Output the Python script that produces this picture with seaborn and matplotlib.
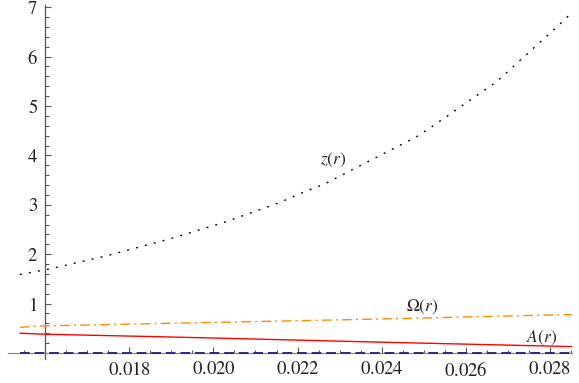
import numpy as np
import pandas as pd
import matplotlib
matplotlib.use('Agg')
import matplotlib.pyplot as plt
import seaborn as sns

sns.set_style('white')
plt.rcParams['font.family'] = ['Liberation Serif', 'DejaVu Serif']
plt.rcParams['mathtext.fontset'] = 'stix'

# values
z_r = [0.01539, 0.01609, 0.01742, 0.01896, 0.02027, 0.02156, 0.02218, 0.02264,
       0.02484, 0.02523, 0.02674, 0.02825, 0.02853]
z_val = [1.59, 1.70, 1.96, 2.31, 2.65, 3.04, 3.27, 3.42, 4.38, 4.60, 5.49, 6.66, 6.89]

om_r = [0.01539, 0.01600, 0.02406, 0.02853]
om_val = [0.52, 0.55, 0.69, 0.78]

a_r = [0.01539, 0.01600, 0.01920, 0.02396, 0.02853]
a_val = [0.40, 0.38, 0.32, 0.22, 0.13]

b_r = [0.01539, 0.02853]
b_val = [0.0, 0.0]

x_ticks = [0.018, 0.020, 0.022, 0.024, 0.026, 0.028]
x_labels = ['0.018', '0.020', '0.022', '0.024', '0.026', '0.028']
y_ticks = [1, 2, 3, 4, 5, 6, 7]

fig = plt.figure(figsize=(5.79, 3.83), dpi=100)
ax = fig.add_axes([0, 0, 1, 1])

sns.lineplot(x=b_r, y=b_val, ax=ax, color='#2b2b80', lw=1.4,
             linestyle=(0, (5, 2.5)), zorder=3)
sns.lineplot(x=a_r, y=a_val, ax=ax, color='#ff0000', lw=1.0, zorder=3)
sns.lineplot(x=om_r, y=om_val, ax=ax, color='#ff8c00', lw=1.0,
             linestyle=(0, (7, 3, 1.5, 3)), zorder=3)
sns.lineplot(x=z_r, y=z_val, ax=ax, color='black', lw=1.0,
             linestyle=(0, (1.4, 5.2)), zorder=3)

ax.text(0.02285, 3.91, r'$z(r)$', fontsize=12.5, ha='center', va='center')
ax.text(0.02496, 0.94, r'$\Omega(r)$', fontsize=12.5, ha='center', va='center')
ax.text(0.0278, 0.30, r'$A(r)$', fontsize=12.5, ha='center', va='center')

ax.set_xlim(0.014917, 0.028702)
ax.set_ylim(-0.607, 7.146)

for s in ['top', 'right']:
    ax.spines[s].set_visible(False)
ax.spines['left'].set_position(('data', 0.016))
ax.spines['bottom'].set_position(('data', 0))
ax.spines['left'].set_bounds(-0.12, 7.05)
ax.spines['bottom'].set_bounds(0.01511, 0.02853)
ax.spines['left'].set_color('#555555')
ax.spines['bottom'].set_color('#888888')
ax.spines['left'].set_linewidth(0.9)
ax.spines['bottom'].set_linewidth(0.9)
ax.spines['left'].set_zorder(2)
ax.spines['bottom'].set_zorder(2)

# tick labels through mathtext so they come out in the Times-like STIX face
ax.set_xticks(x_ticks)
ax.set_xticklabels([r'$' + s + '$' for s in x_labels])
ax.set_xticks(np.arange(0.0155, 0.0286, 0.0005), minor=True)
ax.set_yticks(y_ticks)
ax.set_yticklabels([r'$%d$' % v for v in y_ticks])
ax.set_yticks(np.arange(0.2, 7.01, 0.2), minor=True)

ax.tick_params(axis='both', which='both', direction='in', color='#555555',
               width=0.8, bottom=True, left=True, top=False, right=False)
ax.tick_params(axis='x', which='major', length=4, pad=5.5, labelsize=13.5,
               labelcolor='#222222')
ax.tick_params(axis='x', which='minor', length=2.2)
ax.tick_params(axis='y', which='major', length=4.5, pad=5.5, labelsize=13.5,
               labelcolor='#222222')
ax.tick_params(axis='y', which='minor', length=2.8)
ax.set_xlabel('')
ax.set_ylabel('')

fig.savefig('out.png', dpi=100)
